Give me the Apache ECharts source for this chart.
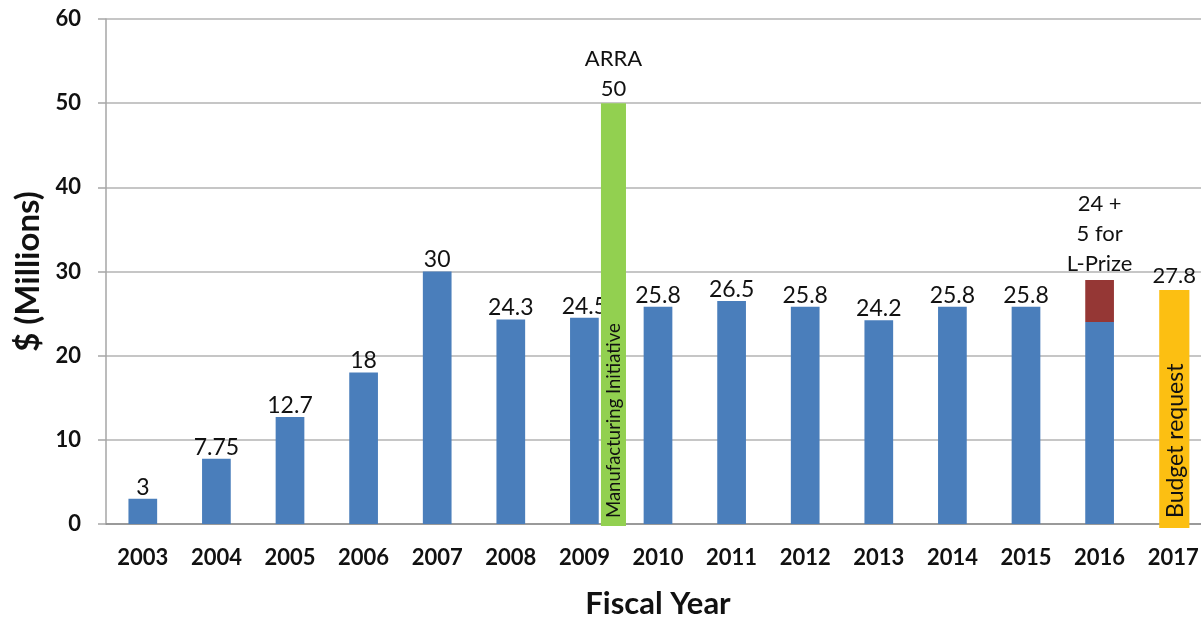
<!DOCTYPE html>
<html>
<head>
<meta charset="utf-8">
<script src="https://cdn.jsdelivr.net/npm/echarts@6/dist/echarts.min.js"></script>
<style>
  html, body { margin: 0; padding: 0; background: #fff; }
  #chart { width: 1201px; height: 617px; }
</style>
</head>
<body>
<div id="chart"></div>
<script>
  // fiscal years and funding, $ millions
  const years = ['2003', '2004', '2005', '2006', '2007', '2008', '2009', '2010',
    '2011', '2012', '2013', '2014', '2015', '2016', '2017'];
  const baseFunding = [3, 7.75, 12.7, 18, 30, 24.3, 24.5, 25.8, 26.5, 25.8, 24.2, 25.8, 25.8, 24, null];
  const lPrize = [null, null, null, null, null, null, null, null, null, null, null, null, null, 5, null];
  // extra one-off bars: [category index, value, inner text, label above]
  const arraBar = [[6, 50, 'Manufacturing Initiative', 'ARRA']];
  const budgetBar = [[14, 27.8, 'Budget request', '']];
  const yTicks = { min: 0, max: 60, interval: 10 };

  const FONT = 'Lato, "Open Sans", sans-serif';

  function extraBar(rows, color, offsetRatio, widthRatio, below, innerSize) {
    return function (params, api) {
      const idx = api.value(0);
      const val = api.value(1);
      const base = api.coord([idx, 0]);
      const top = api.coord([idx, val]);
      const band = api.size([1, 0])[0];
      const w = band * widthRatio;
      const left = base[0] + band * offsetRatio;
      const cx = left + w / 2;
      const row = rows[params.dataIndex];
      const label = row[3] ? row[3] + '\n' + val : String(val);
      return {
        type: 'group',
        children: [
          {
            type: 'rect',
            shape: { x: left, y: top[1], width: w, height: base[1] - top[1] + below },
            style: { fill: color }
          },
          {
            type: 'text',
            x: cx, y: top[1] + 1,
            style: {
              text: label, fill: '#111', font: '22px ' + FONT,
              align: 'center', verticalAlign: 'bottom', lineHeight: 30
            }
          },
          {
            type: 'text',
            x: cx + 1, y: base[1] - 6,
            rotation: Math.PI / 2,
            style: {
              text: row[2], fill: '#111', font: innerSize + 'px ' + FONT,
              align: 'left', verticalAlign: 'middle'
            }
          }
        ]
      };
    };
  }

  const chart = echarts.init(document.getElementById('chart'));
  chart.setOption({
    animation: false,
    textStyle: { fontFamily: FONT },
    grid: {
      left: 106, right: -9, top: 19, bottom: 93,
      containLabel: false, outerBoundsMode: 'none'
    },
    xAxis: {
      type: 'category',
      data: years,
      name: 'Fiscal Year',
      nameLocation: 'middle',
      nameGap: 64,
      nameTextStyle: { fontSize: 31, fontWeight: 'bold', color: '#111' },
      axisLine: { lineStyle: { color: '#8c8c8c', width: 1.5 } },
      axisTick: { show: false },
      axisLabel: { fontSize: 22, fontWeight: 'bold', color: '#111', margin: 23 }
    },
    yAxis: {
      type: 'value',
      min: yTicks.min,
      max: yTicks.max,
      interval: yTicks.interval,
      name: '$ (Millions)',
      nameLocation: 'middle',
      nameGap: 61,
      nameTextStyle: { fontSize: 33, fontWeight: 'bold', color: '#111' },
      axisLine: { show: true, lineStyle: { color: '#a6a6a6', width: 1.5 } },
      axisTick: { show: true, length: 8, lineStyle: { color: '#a6a6a6', width: 1.5 } },
      axisLabel: { fontSize: 22, fontWeight: 'bold', color: '#111', margin: 25 },
      splitLine: { lineStyle: { color: '#b3b3b3', width: 1.5 } }
    },
    series: [
      {
        type: 'bar',
        stack: 'fund',
        data: baseFunding,
        barWidth: '39%',
        itemStyle: { color: '#4a7ebb' },
        label: {
          show: true, position: 'top', distance: 0,
          fontSize: 23, color: '#111',
          formatter: p => (lPrize[p.dataIndex] ? '' : String(p.value))
        }
      },
      {
        type: 'bar',
        stack: 'fund',
        data: lPrize,
        barWidth: '39%',
        itemStyle: { color: '#953735' },
        label: {
          show: true, position: 'top', distance: 1,
          fontSize: 22, color: '#111', lineHeight: 30,
          formatter: p => baseFunding[p.dataIndex] + ' +\n' + p.value + ' for\nL-Prize'
        }
      },
      {
        type: 'custom',
        data: arraBar.map(r => [r[0], r[1]]),
        encode: { x: 0, y: 1 },
        renderItem: extraBar(arraBar, '#92d050', 0.225, 0.34, 2, 18.5),
        z: 3
      },
      {
        type: 'custom',
        data: budgetBar.map(r => [r[0], r[1]]),
        encode: { x: 0, y: 1 },
        renderItem: extraBar(budgetBar, '#fcbf12', -0.19, 0.41, 4, 23),
        z: 3
      }
    ]
  });
</script>
</body>
</html>
